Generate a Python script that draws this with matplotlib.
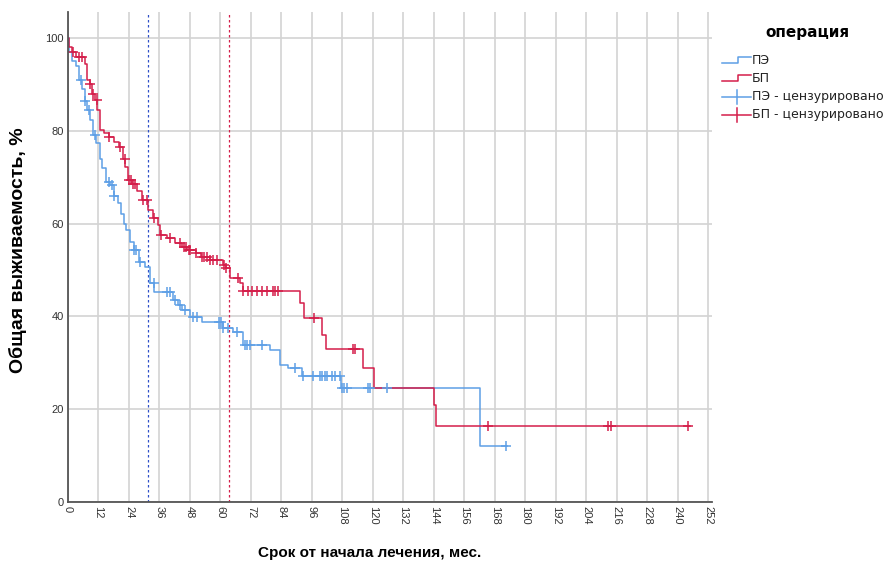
import numpy as np
import matplotlib
matplotlib.use("Agg")
import matplotlib.pyplot as plt
from matplotlib.lines import Line2D

plt.rcParams['font.family'] = ['Liberation Sans', 'DejaVu Sans']

# ПЭ - step points (months, survival %)
pe_t = [0, 0.5, 1.5, 3, 4.5, 5.5, 6.5, 7.5, 8.5, 10, 11, 12.5, 13.5, 15, 16.5, 18,
        19.5, 21, 22, 23, 24.5, 26, 28, 30.5, 32.3, 34, 41.3, 43.3, 45, 48, 52.7,
        61, 65, 69, 79.5, 83.5, 86.6, 92, 107.5, 162, 173]
pe_s = [100, 97, 95, 94, 91, 89, 86.5, 84.5, 82.3, 79, 77.4, 74, 72, 69, 68.3, 66,
        64.4, 62, 60, 58.6, 56, 54.3, 51.7, 50.6, 47.2, 45.3, 43.5, 42.5, 41.4, 39.9, 38.8,
        37.5, 36.6, 33.8, 32.8, 29.5, 28.9, 27.2, 24.6, 12, 12]
pe_cens = [5, 6.8, 8.3, 10.6, 16, 17.5, 18.3, 26, 26.8, 28.5, 33.9, 39, 40, 42, 44, 46,
           49.4, 50.7, 59.5, 60.3, 61, 63, 66.5, 69.7, 70.5, 71.7, 76.4, 89.4, 92.5, 96.5,
           99, 100, 101, 102, 104, 105, 107, 108, 108.6, 110, 118, 119, 125.6, 172.5]

# БП
bp_t = [0, 0.5, 1.5, 3, 6.5, 7.5, 8.5, 9.5, 10.5, 11.5, 12.5, 14, 16, 18, 20, 21.5,
        22.5, 23.5, 25, 27, 29, 31.5, 33.5, 35.5, 36.2, 39, 42, 45, 47, 50.5, 52.5, 56,
        61, 62, 63.8, 67.7, 69, 91.3, 93, 100, 101.5, 116, 120.5, 144.2, 145, 245]
bp_s = [100, 98, 97, 96, 94.5, 91, 90, 88, 86.6, 84.5, 80.2, 79.5, 78.7, 77.6, 76.5, 74,
        72.2, 69.4, 68.5, 67, 65, 63, 61.2, 59.7, 57.5, 56.9, 55.8, 55, 54.3, 53.7, 52.8, 52.2,
        51, 50.4, 48.3, 47.2, 45.5, 42.9, 39.7, 36, 33, 28.9, 24.6, 21, 16.3, 16.3]
bp_cens = [2, 4.5, 5.5, 8.7, 10, 11.4, 16, 20.5, 22.4, 24, 24.8, 25.5, 26.4, 29.5, 31,
           33.7, 36.5, 40, 44, 45.5, 46.5, 47.5, 48, 50.5, 52.7, 53.7, 54.7, 56, 57, 58.7,
           61.5, 62.2, 67, 69, 71, 72.4, 74.4, 76.4, 78.3, 80.7, 81.5, 82.7, 97, 112, 113,
           165.4, 212.4, 213.8, 244]

# медианы
pe_median = 31.5
bp_median = 63.4

x_ticks = list(range(0, 253, 12))
y_ticks = [0, 20, 40, 60, 80, 100]

c_pe = '#5E9FE6'
c_bp = '#D41E4A'


def surv_at(times, surv, t):
    idx = np.searchsorted(times, t, side='right') - 1
    return np.asarray(surv)[idx]


fig = plt.figure(figsize=(8.92, 5.63), dpi=100)
ax = fig.add_axes([68 / 892, 61 / 563, 644 / 892, 490 / 563])

ax.set_xlim(0, 253.5)
ax.set_ylim(0, 105.6)
ax.set_xticks(x_ticks)
ax.set_yticks(y_ticks)
ax.set_xticklabels([str(v) for v in x_ticks], rotation=270, fontsize=8, color='#333333')
ax.set_yticklabels([str(v) for v in y_ticks], fontsize=8, color='#333333')
ax.tick_params(length=0, pad=3)
ax.grid(True, color='#d3d3d3', lw=1.2)
ax.set_axisbelow(True)
for s in ['top', 'right']:
    ax.spines[s].set_visible(False)
for s in ['left', 'bottom']:
    ax.spines[s].set_color('#555555')
    ax.spines[s].set_linewidth(1.3)

ax.axvline(pe_median, color='#3050C8', lw=0.9, ls=(0, (2, 2)))
ax.axvline(bp_median, color=c_bp, lw=0.9, ls=(0, (2, 2)))

ax.step(pe_t, pe_s, where='post', color=c_pe, lw=1.1)
ax.step(bp_t, bp_s, where='post', color=c_bp, lw=1.1)
ax.plot(pe_cens, surv_at(pe_t, pe_s, pe_cens), ls='none', marker='+', ms=7.5, mew=1.1, color=c_pe)
ax.plot(bp_cens, surv_at(bp_t, bp_s, bp_cens), ls='none', marker='+', ms=7.5, mew=1.1, color=c_bp)

fig.text(18 / 892, 1 - 250 / 563, 'Общая выживаемость, %', rotation=90, fontsize=14,
         fontweight='bold', ha='center', va='center')
fig.text(370 / 892, 1 - 553 / 563, 'Срок от начала лечения, мес.', fontsize=11,
         fontweight='bold', ha='center', va='center')

# легенда
lg = fig.add_axes([0, 0, 1, 1], facecolor='none')
lg.set_xlim(0, 892)
lg.set_ylim(563, 0)
lg.axis('off')
lg.text(807, 32, 'операция', fontsize=11, fontweight='bold', ha='center', va='center',
        family='DejaVu Sans')
entries = [('ПЭ', c_pe, 'step'), ('БП', c_bp, 'step'),
           ('ПЭ - цензурировано', c_pe, 'cross'), ('БП - цензурировано', c_bp, 'cross')]
for i, (lab, col, kind) in enumerate(entries):
    y = 60 + i * 18.3
    if kind == 'step':
        lg.add_line(Line2D([722, 738, 738, 751], [y + 3, y + 3, y - 3, y - 3], color=col, lw=1.1))
    else:
        lg.add_line(Line2D([722, 751], [y, y], color=col, lw=1.1))
        lg.add_line(Line2D([737, 737], [y - 7, y + 7], color=col, lw=1.1))
    lg.text(752, y, lab, fontsize=9, ha='left', va='center', color='#222222',
            family='DejaVu Sans')

fig.savefig('out.png', dpi=100)
